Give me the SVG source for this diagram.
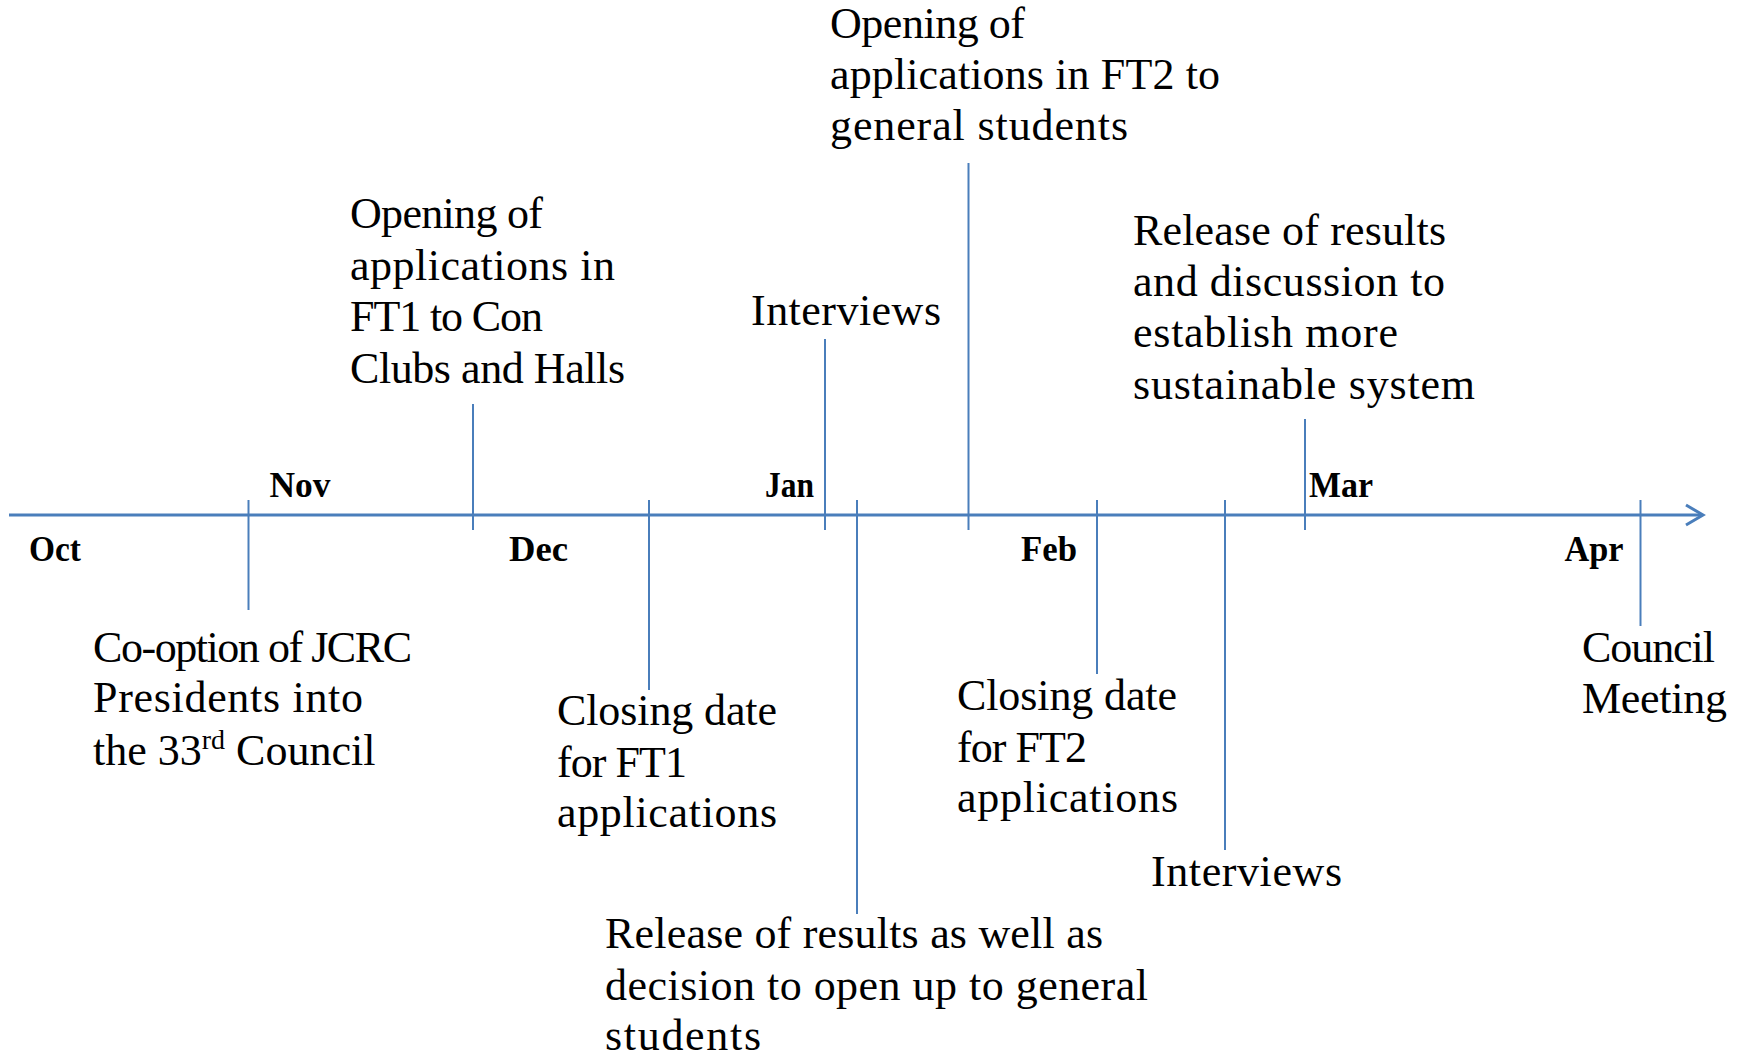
<svg xmlns="http://www.w3.org/2000/svg" width="1746" height="1058" viewBox="0 0 1746 1058">
  <style>
    .axis { stroke: #4A7EBB; stroke-width: 3; fill: none; }
    .tick { stroke: #4A7EBB; stroke-width: 2; fill: none; }
    .month { font-family: "Liberation Serif", "Times New Roman", serif; font-size: 35px; font-weight: bold; fill: #000; }
    .label { font-family: "Liberation Serif", "Times New Roman", serif; font-size: 44px; fill: #000; }
  </style>
  <rect width="1746" height="1058" fill="#ffffff"/>

  <!-- timeline axis with open arrowhead, and event ticks -->
  <g id="connectors">
    <line class="axis" x1="9" y1="515" x2="1702" y2="515"/>
    <path class="axis" d="M1686,505 L1703,515 L1686,525"/>
    <line class="tick" x1="248.5" y1="500" x2="248.5" y2="610"/>
    <line class="tick" x1="473" y1="404" x2="473" y2="530"/>
    <line class="tick" x1="649" y1="500" x2="649" y2="690"/>
    <line class="tick" x1="825" y1="339" x2="825" y2="530"/>
    <line class="tick" x1="857" y1="500" x2="857" y2="914"/>
    <line class="tick" x1="968.5" y1="163" x2="968.5" y2="530"/>
    <line class="tick" x1="1097" y1="500" x2="1097" y2="674"/>
    <line class="tick" x1="1225" y1="500" x2="1225" y2="850"/>
    <line class="tick" x1="1305" y1="419" x2="1305" y2="530"/>
    <line class="tick" x1="1640.5" y1="500" x2="1640.5" y2="626"/>
  </g>

  <!-- month labels -->
  <g id="months">
    <text class="month" x="29" y="561" textLength="52" lengthAdjust="spacingAndGlyphs">Oct</text>
    <text class="month" x="269.5" y="497" textLength="61" lengthAdjust="spacingAndGlyphs">Nov</text>
    <text class="month" x="509" y="561" textLength="59" lengthAdjust="spacingAndGlyphs">Dec</text>
    <text class="month" x="765" y="497" textLength="49" lengthAdjust="spacingAndGlyphs">Jan</text>
    <text class="month" x="1021" y="561" textLength="56" lengthAdjust="spacingAndGlyphs">Feb</text>
    <text class="month" x="1309" y="497" textLength="64" lengthAdjust="spacingAndGlyphs">Mar</text>
    <text class="month" x="1564.5" y="561" textLength="59" lengthAdjust="spacingAndGlyphs">Apr</text>
  </g>

  <g id="event-cooption">
    <text class="label" x="93" y="662" textLength="319">Co-option of JCRC</text>
    <text class="label" x="93" y="712" textLength="270">Presidents into</text>
    <text class="label" x="93" y="765">the 33<tspan font-size="28" dy="-16">rd</tspan><tspan dy="16"> Council</tspan></text>
  </g>

  <g id="event-open-ft1">
    <text class="label" x="350" y="228" textLength="193">Opening of</text>
    <text class="label" x="350" y="280" textLength="265">applications in</text>
    <text class="label" x="350" y="331" textLength="193">FT1 to Con</text>
    <text class="label" x="350" y="383" textLength="275">Clubs and Halls</text>
  </g>

  <g id="event-close-ft1">
    <text class="label" x="557" y="725" textLength="220">Closing date</text>
    <text class="label" x="557" y="777" textLength="130">for FT1</text>
    <text class="label" x="557" y="827" textLength="220">applications</text>
  </g>

  <g id="event-interviews-1">
    <text class="label" x="751" y="325" textLength="190">Interviews</text>
  </g>

  <g id="event-release-1">
    <text class="label" x="605" y="948" textLength="498">Release of results as well as</text>
    <text class="label" x="605" y="1000" textLength="543">decision to open up to general</text>
    <text class="label" x="605" y="1050" textLength="156">students</text>
  </g>

  <g id="event-open-ft2">
    <text class="label" x="830" y="38" textLength="195">Opening of</text>
    <text class="label" x="830" y="89" textLength="390">applications in FT2 to</text>
    <text class="label" x="830" y="140" textLength="298">general students</text>
  </g>

  <g id="event-close-ft2">
    <text class="label" x="957" y="710" textLength="220">Closing date</text>
    <text class="label" x="957" y="762" textLength="130">for FT2</text>
    <text class="label" x="957" y="812" textLength="221">applications</text>
  </g>

  <g id="event-interviews-2">
    <text class="label" x="1151" y="886" textLength="191">Interviews</text>
  </g>

  <g id="event-release-2">
    <text class="label" x="1133" y="245" textLength="313">Release of results</text>
    <text class="label" x="1133" y="296" textLength="312">and discussion to</text>
    <text class="label" x="1133" y="347" textLength="265">establish more</text>
    <text class="label" x="1133" y="399" textLength="342">sustainable system</text>
  </g>

  <g id="event-council">
    <text class="label" x="1582" y="662" textLength="133">Council</text>
    <text class="label" x="1582" y="713" textLength="145">Meeting</text>
  </g>
</svg>
